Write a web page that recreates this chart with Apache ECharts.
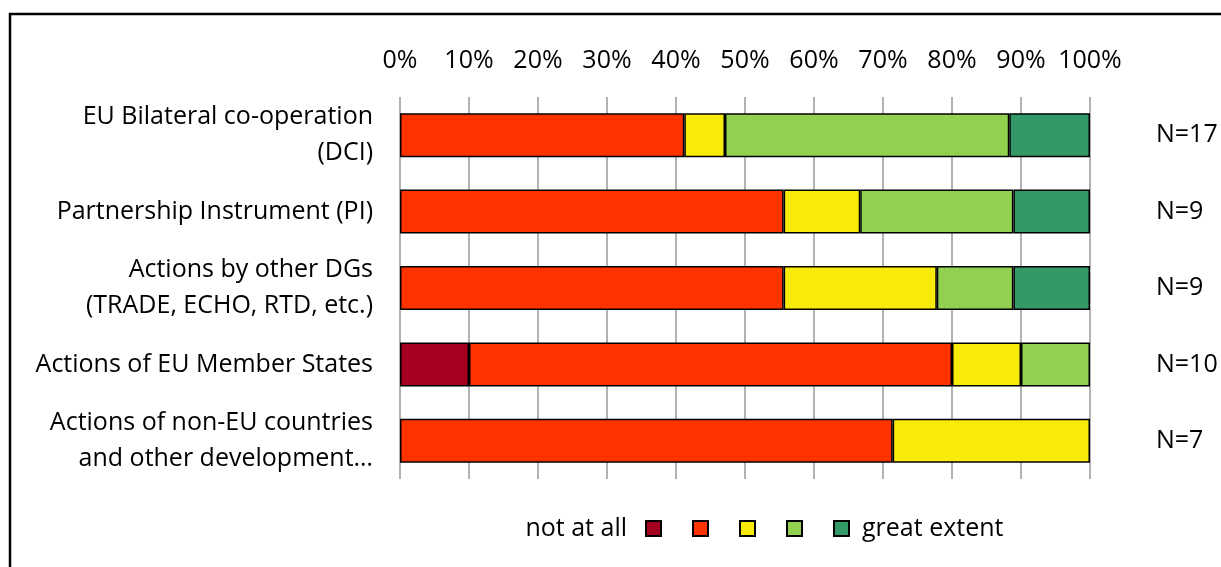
<!DOCTYPE html>
<html>
<head>
<meta charset="utf-8">
<script src="https://cdn.jsdelivr.net/npm/echarts@6/dist/echarts.min.js"></script>
<style>
  html, body { margin: 0; padding: 0; background: #fff; }
  #chart { width: 1221px; height: 567px; }
</style>
</head>
<body>
<div id="chart"></div>
<script>
// Instruments / actors rated (top to bottom)
const categories = [
  'EU Bilateral co-operation\n(DCI)',
  'Partnership Instrument (PI)',
  'Actions by other DGs\n(TRADE, ECHO, RTD, etc.)',
  'Actions of EU Member States',
  'Actions of non-EU countries\nand other development\u2026'
];
// Number of respondents per row
const respondents = ['N=17', 'N=9', 'N=9', 'N=10', 'N=7'];

// Share of responses (%) per scale level, from "not at all" to "great extent"
const notAtAll    = [null, null, null, 10,   null];
const level2      = [41.2, 55.6, 55.6, 70,   71.4];
const level3      = [5.9,  11.1, 22.2, 10,   28.6];
const level4      = [41.2, 22.2, 11.1, 10,   null];
const greatExtent = [11.7, 11.1, 11.1, null, null];

const xTicks = { min: 0, max: 100, interval: 10 };

const FONT = '"Open Sans", sans-serif';
const levels = [
  { name: 'not at all',   data: notAtAll,    color: '#A50021' },
  { name: '2',            data: level2,      color: '#FF3300' },
  { name: '3',            data: level3,      color: '#F8EB09' },
  { name: '4',            data: level4,      color: '#92D050' },
  { name: 'great extent', data: greatExtent, color: '#339966' }
];

const series = levels.map(l => ({
  name: l.name,
  type: 'bar',
  stack: 'total',
  barWidth: 44,
  data: l.data,
  itemStyle: { color: l.color, borderColor: '#000', borderWidth: 1.5 },
  emphasis: { disabled: true }
}));

const legendBase = {
  top: 516,
  padding: 0,
  icon: 'rect',
  itemWidth: 15,
  itemHeight: 15,
  selectedMode: false,
  textStyle: { fontFamily: FONT, fontSize: 25, color: '#000' }
};

const chart = echarts.init(document.getElementById('chart'), null, { renderer: 'canvas' });
chart.setOption({
  animation: false,
  textStyle: { fontFamily: FONT },
  grid: { left: 400, right: 131, top: 97, bottom: 88, containLabel: false },
  xAxis: {
    type: 'value',
    position: 'top',
    min: xTicks.min, max: xTicks.max, interval: xTicks.interval,
    axisLine: { show: false },
    axisTick: { show: false },
    splitLine: { show: true, lineStyle: { color: '#999', width: 1.5 } },
    axisLabel: { formatter: '{value}%', fontSize: 25, color: '#000', fontFamily: FONT, margin: 24 }
  },
  yAxis: [
    {
      type: 'category',
      data: categories,
      inverse: true,
      axisLine: { show: false },
      axisTick: { show: false },
      axisLabel: { fontSize: 25, lineHeight: 36, color: '#000', fontFamily: FONT, margin: 27, align: 'right' }
    },
    {
      type: 'category',
      data: respondents,
      inverse: true,
      position: 'right',
      axisLine: { show: false },
      axisTick: { show: false },
      axisLabel: { fontSize: 25, color: '#000', fontFamily: FONT, margin: 66, align: 'left' }
    }
  ],
  legend: [
    Object.assign({}, legendBase, {
      data: ['not at all'], right: 1221 - 662, align: 'right',
      textStyle: Object.assign({}, legendBase.textStyle, { padding: [0, 14, 0, 0] })
    }),
    Object.assign({}, legendBase, { data: ['2'], left: 692, formatter: () => ' ' }),
    Object.assign({}, legendBase, { data: ['3'], left: 739, formatter: () => ' ' }),
    Object.assign({}, legendBase, { data: ['4'], left: 786, formatter: () => ' ' }),
    Object.assign({}, legendBase, {
      data: ['great extent'], left: 833,
      textStyle: Object.assign({}, legendBase.textStyle, { padding: [0, 0, 0, 8] })
    })
  ],
  graphic: [
    {
      type: 'rect',
      shape: { x: 10, y: 14, width: 1300, height: 700 },
      style: { fill: 'none', stroke: '#000', lineWidth: 2.5 },
      silent: true
    }
  ],
  series: series
});
</script>
</body>
</html>
